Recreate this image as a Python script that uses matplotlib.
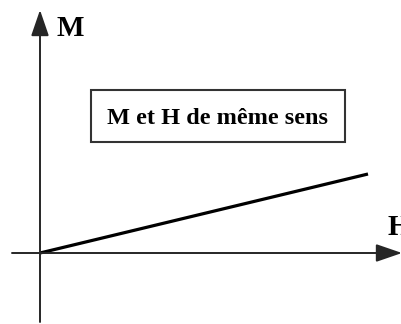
import matplotlib.pyplot as plt
from matplotlib.patches import Rectangle

# magnetisation M against field H (same direction -> positive slope)
h_vals = [0.0, 3.28]
m_vals = [0.0, 0.79]

h_axis = [-0.28, 3.62]
m_axis = [-0.69, 2.43]

axis_label_x = "H"
axis_label_y = "M"
box_text = "M et H de même sens"

plt.rcParams['font.family'] = ['Liberation Serif', 'DejaVu Serif']

fig = plt.figure(figsize=(4.02, 3.24), dpi=100)
ax = fig.add_axes([0, 0, 1, 1])
ax.set_xlim(-0.40, 3.62)
ax.set_ylim(-0.71, 2.53)
ax.axis('off')

arrow = dict(arrowstyle='-|>,head_length=1.6,head_width=0.55',
             color='#262626', lw=1.4, mutation_scale=10,
             shrinkA=0, shrinkB=0)
# H axis
ax.annotate('', xy=(h_axis[1], 0), xytext=(h_axis[0], 0), arrowprops=arrow)
# M axis
ax.annotate('', xy=(0, m_axis[1]), xytext=(0, m_axis[0]), arrowprops=arrow)

ax.plot(h_vals, m_vals, color='black', lw=2.3, solid_capstyle='butt')

ax.text(0.17, 2.17, axis_label_y, fontsize=21, fontweight='bold',
        ha='left', va='baseline')
ax.text(3.48, 0.18, axis_label_x, fontsize=21, fontweight='bold',
        ha='left', va='baseline')

ax.add_patch(Rectangle((0.226, 0.562), 0.632, 0.160, transform=ax.transAxes,
                       fill=False, edgecolor='#333333', lw=1.5))
ax.text(0.542, 0.634, box_text, transform=ax.transAxes, fontsize=17.5,
        fontweight='bold', ha='center', va='center')

fig.savefig('out.png', dpi=100)
